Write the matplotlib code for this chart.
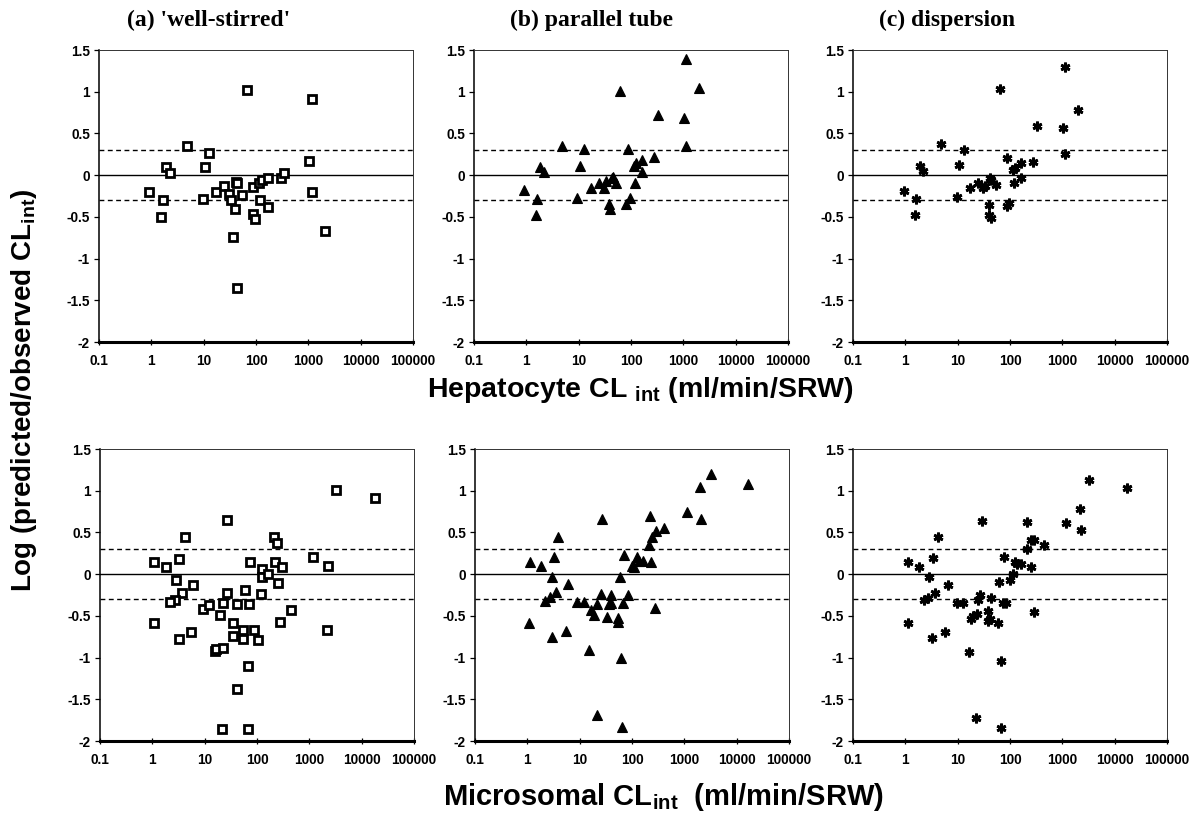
import matplotlib
matplotlib.use("Agg")
import matplotlib.pyplot as plt
from matplotlib.ticker import FixedLocator, FixedFormatter

plt.rcParams['font.family'] = ['Liberation Sans', 'DejaVu Sans']
plt.rcParams['mathtext.fontset'] = 'custom'
plt.rcParams['mathtext.rm'] = 'Liberation Sans'
plt.rcParams['mathtext.bf'] = 'Liberation Sans:bold'
plt.rcParams['mathtext.it'] = 'Liberation Sans:italic'

# ---------------- data ----------------
panel_titles = ["(a) 'well-stirred'", "(b) parallel tube", "(c) dispersion"]
x_ticks = [0.1, 1, 10, 100, 1000, 10000, 100000]
x_tick_labels = ["0.1", "1", "10", "100", "1000", "10000", "100000"]
y_ticks = [-2, -1.5, -1, -0.5, 0, 0.5, 1, 1.5]
y_tick_labels = ["-2", "-1.5", "-1", "-0.5", "0", "0.5", "1", "1.5"]
limit_lines = [-0.3, 0.3]

# Hepatocyte (top row)
hep_x_a = [0.9, 1.9, 2.25, 1.68, 1.51, 4.7, 10.5, 12.6, 9.5, 17, 24.4, 30.4, 33.7, 39, 40.7, 43,
           35.7, 43.8, 53.8, 68, 88.7, 86, 97, 119, 116, 128, 172, 172, 295, 343, 1047, 1162, 1162, 2090]
hep_y_a = [-0.20, 0.10, 0.03, -0.30, -0.50, 0.35, 0.10, 0.26, -0.29, -0.20, -0.13, -0.23, -0.30, -0.40, -0.08, -0.09,
           -0.74, -1.35, -0.24, 1.02, -0.14, -0.46, -0.52, -0.30, -0.10, -0.06, -0.04, -0.38, -0.04, 0.03, 0.17, 0.91, -0.20, -0.67]

hep_x_b = [0.9, 1.8, 2.2, 1.6, 1.56, 4.7, 10.5, 12.8, 9.1, 16.9, 24.7, 31, 33, 38.5, 39, 43, 45,
           51.5, 62, 86, 82, 95, 120, 114, 127, 162, 162, 279, 324, 1047, 1112, 1128, 1995]
hep_y_b = [-0.18, 0.10, 0.04, -0.28, -0.48, 0.35, 0.11, 0.31, -0.27, -0.16, -0.09, -0.15, -0.07, -0.35, -0.40, -0.03, -0.02,
           -0.09, 1.01, 0.31, -0.35, -0.27, -0.10, 0.11, 0.14, 0.18, 0.04, 0.22, 0.72, 0.68, 1.39, 0.35, 1.05]

hep_x_c = [0.95, 1.89, 2.2, 1.63, 1.5, 4.9, 10.4, 13.2, 9.5, 17.4, 24, 31, 33, 39, 39, 43, 42, 44,
           55, 65, 86, 86, 95, 118, 114, 127, 162, 162, 279, 324, 1047, 1112, 1128, 1995]
hep_y_c = [-0.19, 0.11, 0.05, -0.29, -0.48, 0.37, 0.12, 0.30, -0.26, -0.16, -0.10, -0.16, -0.13, -0.36, -0.48, -0.51, -0.04, -0.06,
           -0.12, 1.03, 0.21, -0.37, -0.33, -0.10, 0.06, 0.09, 0.14, -0.04, 0.16, 0.59, 0.57, 1.30, 0.25, 0.78]

# Microsomal (bottom row)
mic_x_a = [1.1, 1.82, 3.3, 4.15, 2.83, 6.07, 3.63, 2.75, 2.18, 1.09, 3.18, 5.56, 9.4, 11.9, 19.6, 22.7, 26.3, 27.1,
           15.5, 16.5, 22.7, 21, 35.3, 35.3, 42, 53, 53, 42, 59, 71, 68, 66, 73, 86, 104, 117, 123, 127, 162,
           215, 244, 217, 307, 252, 270, 443, 1190, 2276, 2178, 3280, 18000]
mic_y_a = [0.15, 0.09, 0.18, 0.44, -0.07, -0.13, -0.23, -0.31, -0.33, -0.59, -0.78, -0.69, -0.42, -0.37, -0.49, -0.35, -0.23, 0.65,
           -0.92, -0.90, -0.88, -1.86, -0.59, -0.74, -0.36, -0.67, -0.78, -1.38, -0.19, -0.36, -1.86, -1.10, 0.15, -0.67, -0.79, -0.24, 0.06, -0.03, 0.00,
           0.45, 0.37, 0.14, 0.08, -0.11, -0.57, -0.43, 0.21, 0.10, -0.67, 1.01, 0.91]

mic_x_b = [1.12, 1.82, 3.27, 3.9, 2.9, 6.0, 3.5, 2.7, 2.2, 1.09, 3.0, 5.6, 9.0, 12, 16.8, 18.6, 21, 26, 27.3,
           15, 21, 33, 36, 40, 40, 54, 54, 63, 65, 58, 68, 71, 84, 99, 108, 122, 137, 163,
           210, 218, 245, 284, 410, 235, 277, 1120, 1970, 2120, 3190, 16400]
mic_y_b = [0.15, 0.10, 0.20, 0.45, -0.04, -0.12, -0.22, -0.27, -0.32, -0.59, -0.75, -0.68, -0.33, -0.33, -0.43, -0.49, -0.36, -0.24, 0.66,
           -0.91, -1.69, -0.51, -0.36, -0.35, -0.25, -0.52, -0.57, -1.00, -1.83, -0.04, -0.35, 0.23, -0.25, 0.10, 0.08, 0.20, 0.16, 0.16,
           0.35, 0.70, 0.44, 0.52, 0.55, 0.15, -0.41, 0.74, 1.05, 0.66, 1.20, 1.08]

mic_x_c = [1.12, 1.86, 3.34, 4.16, 2.89, 6.45, 3.7, 2.68, 2.32, 1.12, 3.24, 5.76, 9.6, 12.4, 16.7, 17.9, 19.9, 23, 24, 27,
           28.6, 22.3, 37.3, 37.3, 41, 43, 57.8, 62, 67, 67, 75, 83, 77.6, 100, 112, 125, 139, 161,
           215, 215, 250, 290, 440, 255, 290, 1170, 2140, 2270, 3240, 17400]
mic_y_c = [0.14, 0.09, 0.19, 0.44, -0.04, -0.13, -0.23, -0.28, -0.31, -0.59, -0.77, -0.69, -0.35, -0.34, -0.93, -0.54, -0.50, -0.48, -0.31, -0.25,
           0.64, -1.73, -0.44, -0.56, -0.54, -0.29, -0.59, -0.09, -1.04, -1.85, -0.34, -0.34, 0.20, -0.07, 0.00, 0.15, 0.12, 0.12,
           0.30, 0.63, 0.41, 0.41, 0.35, 0.08, -0.45, 0.61, 0.78, 0.53, 1.13, 1.03]

top_data = [(hep_x_a, hep_y_a), (hep_x_b, hep_y_b), (hep_x_c, hep_y_c)]
bottom_data = [(mic_x_a, mic_y_a), (mic_x_b, mic_y_b), (mic_x_c, mic_y_c)]

# ---------------- styling ----------------
marker_styles = [
    dict(marker='s', ms=6.0, mfc='white', mec='black', mew=2.0),
    dict(marker='^', ms=6.5, mfc='black', mec='black', mew=0.8),
    dict(marker=(6, 2, 0), ms=7, mfc='black', mec='black', mew=2.0),
]

W, H = 1195, 821
fig = plt.figure(figsize=(W / 100, H / 100), dpi=100)

top_lefts = [99, 474, 853]
bot_lefts = [100, 475, 853]
ax_w = 314
ax_h = 292
top_top = 50
bot_top = 449


def make_axes(left_px, top_px):
    return fig.add_axes([left_px / W, 1 - (top_px + ax_h) / H, ax_w / W, ax_h / H])


def style_axes(ax):
    ax.set_xscale('log')
    ax.set_xlim(0.1, 100000)
    ax.set_ylim(-2, 1.5)
    ax.xaxis.set_major_locator(FixedLocator(x_ticks))
    ax.xaxis.set_major_formatter(FixedFormatter(x_tick_labels))
    ax.xaxis.set_minor_locator(FixedLocator([]))
    ax.yaxis.set_major_locator(FixedLocator(y_ticks))
    ax.yaxis.set_major_formatter(FixedFormatter(y_tick_labels))
    ax.tick_params(axis='y', direction='out', length=3.5, width=0.9, pad=3)
    ax.tick_params(axis='x', direction='inout', length=5, width=0.9, pad=6)
    for lab in ax.get_xticklabels() + ax.get_yticklabels():
        lab.set_fontweight('bold')
        lab.set_fontsize(9.8)
    for s in ['top', 'right']:
        ax.spines[s].set_linewidth(0.7)
        ax.spines[s].set_color('#333333')
    ax.spines['left'].set_linewidth(1.1)
    ax.spines['bottom'].set_linewidth(2.2)
    ax.axhline(0, color='black', lw=1.0, zorder=1)
    for v in limit_lines:
        ax.axhline(v, color='black', lw=1.0, ls=(0, (3.5, 2.5)), zorder=1)


for i in range(3):
    ax = make_axes(top_lefts[i], top_top)
    style_axes(ax)
    xs, ys = top_data[i]
    ax.plot(xs, ys, ls='none', zorder=3, clip_on=False, **marker_styles[i])

    ax2 = make_axes(bot_lefts[i], bot_top)
    style_axes(ax2)
    xs, ys = bottom_data[i]
    ax2.plot(xs, ys, ls='none', zorder=3, clip_on=False, **marker_styles[i])

# panel titles
title_x = [209, 592, 947]
for t, xp in zip(panel_titles, title_x):
    fig.text(xp / W, 1 - 20 / H, t, ha='center', va='center',
             family=['Liberation Serif', 'DejaVu Serif'], fontweight='bold', fontsize=17)

# axis labels
fig.text(640 / W, 1 - 397 / H, r"Hepatocyte CL $_{\mathbf{int}}$ (ml/min/SRW)",
         ha='center', va='baseline', fontweight='bold', fontsize=20.5)
fig.text(663 / W, 1 - 805 / H, r"Microsomal CL$_{\mathbf{int}}$  (ml/min/SRW)",
         ha='center', va='baseline', fontweight='bold', fontsize=21)
fig.text(24 / W, 1 - 390 / H, r"Log (predicted/observed CL$_{\mathbf{int}}$)",
         ha='center', va='center', rotation=90, fontweight='bold', fontsize=20)

fig.savefig("out.png", dpi=100)
